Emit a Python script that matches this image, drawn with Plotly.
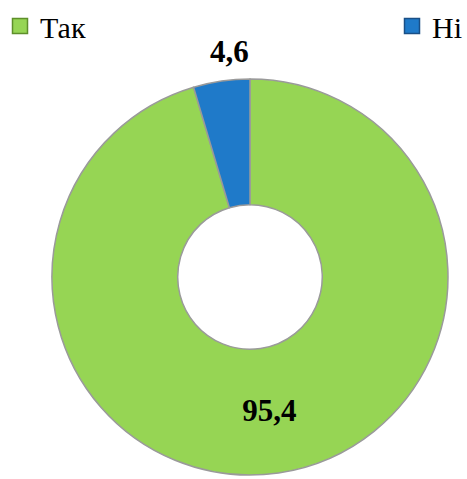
import plotly.graph_objects as go

categories = ["Так", "Ні"]
values = [95.4, 4.6]
value_labels = ["95,4", "4,6"]
colors = ["#96D554", "#1F7AC9"]
legend_border = ["#5E8F2A", "#1A4F86"]

W, H = 467, 479
# donut domain box in figure pixels
cx0, cx1 = 52, 448
cy0, cy1 = 79, 475

fig = go.Figure()
fig.add_trace(go.Pie(
    labels=categories,
    values=values,
    text=[value_labels[0], ""],
    textinfo="text",
    textposition=["inside", "none"],
    insidetextorientation="horizontal",
    textfont=dict(family="Liberation Serif", size=31, color="#000000", weight="bold"),
    hole=0.365,
    sort=False,
    direction="clockwise",
    rotation=0,
    marker=dict(colors=colors, line=dict(color="#9A9A9A", width=1.5)),
    domain=dict(x=[cx0 / W, cx1 / W], y=[1 - cy1 / H, 1 - cy0 / H]),
    hoverinfo="label+value",
    showlegend=False,
))

# label of the small slice, placed just above the top of the ring, left of 12 o'clock
fig.add_annotation(
    text=value_labels[1], xref="paper", yref="paper",
    x=(cx0 + cx1) / 2 / W, y=1 - cy0 / H,
    xanchor="right", yanchor="bottom", xshift=1, yshift=8,
    showarrow=False,
    font=dict(family="Liberation Serif", size=31, color="#000000", weight="bold"),
)

legend_names = ["legend", "legend2"]
for name, col, bcol, lg in zip(categories, colors, legend_border, legend_names):
    fig.add_trace(go.Scatter(
        x=[None], y=[None], mode="markers", name=name,
        marker=dict(symbol="square", size=15, color=col, line=dict(color=bcol, width=1.5)),
        showlegend=True, legend=lg,
    ))

leg_font = dict(family="Liberation Serif", size=30, color="#000000")
fig.update_layout(
    width=W, height=H,
    margin=dict(l=0, r=0, t=0, b=0),
    paper_bgcolor="rgba(0,0,0,0)",
    plot_bgcolor="rgba(0,0,0,0)",
    xaxis=dict(visible=False),
    yaxis=dict(visible=False),
    legend=dict(x=0, y=1, xanchor="left", yanchor="top",
                font=leg_font, itemwidth=30, bgcolor="rgba(0,0,0,0)", itemclick=False),
    legend2=dict(x=392 / W, y=1, xanchor="left", yanchor="top",
                 font=leg_font, itemwidth=30, bgcolor="rgba(0,0,0,0)", itemclick=False),
)

fig.write_html("out.html", config={"displayModeBar": False},
               post_script="document.body.style.margin='0';document.body.style.overflow='hidden';")
